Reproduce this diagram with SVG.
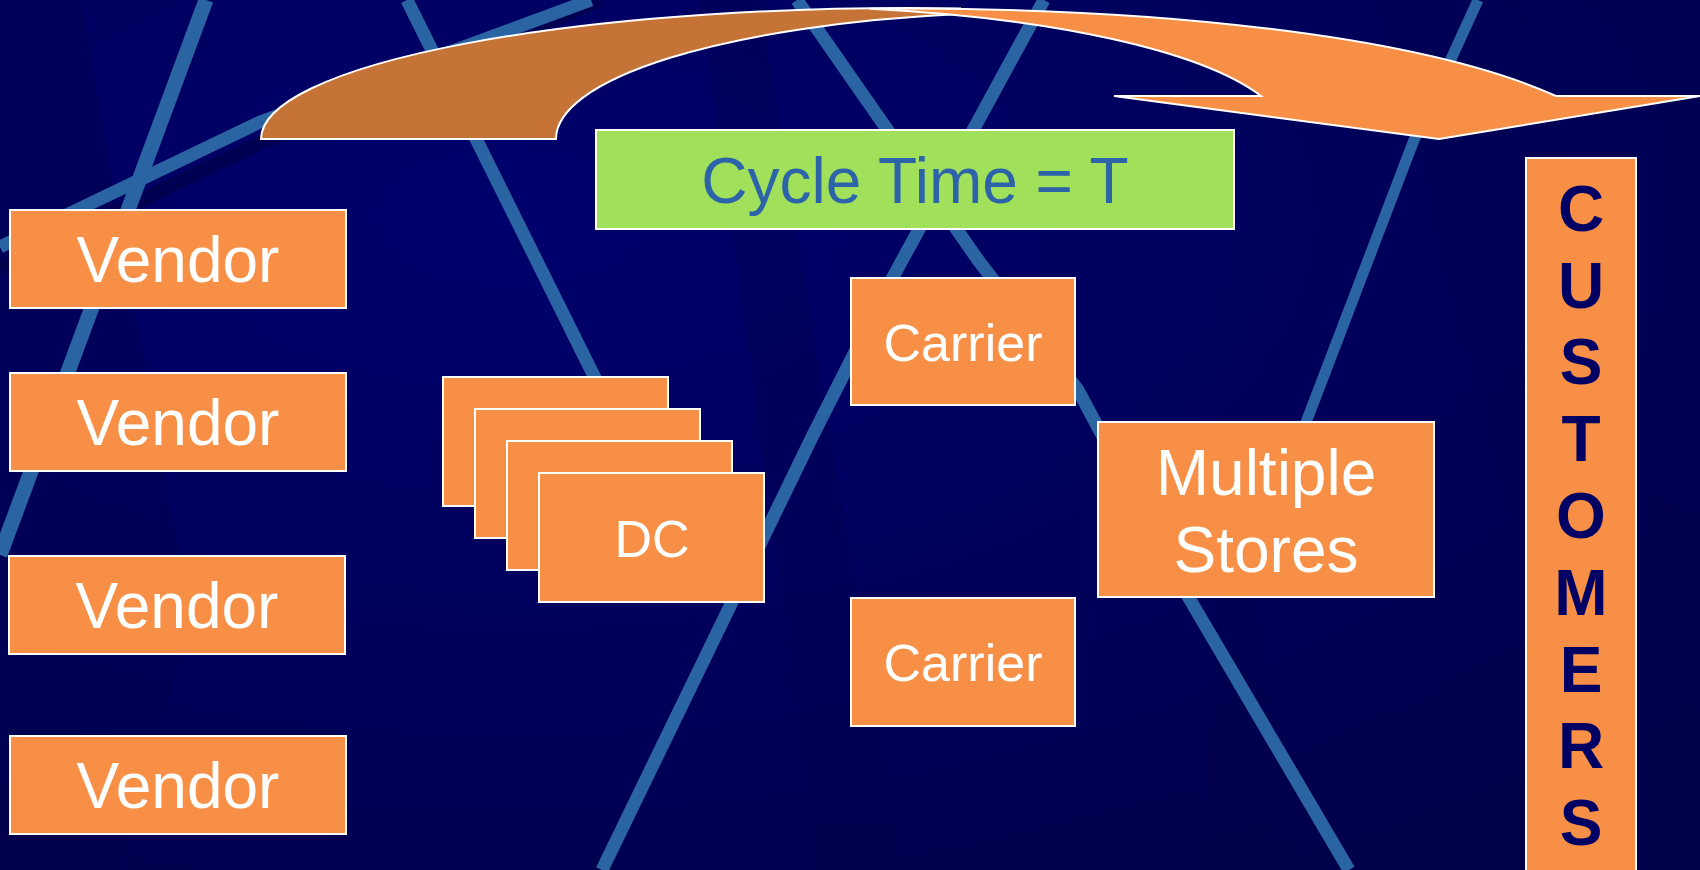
<svg xmlns="http://www.w3.org/2000/svg" width="1700" height="870" viewBox="0 0 1700 870">
  <defs>
    <radialGradient id="bgGlow" cx="0.3" cy="0.25" r="0.9">
      <stop offset="0" stop-color="#00006c"/>
      <stop offset="0.6" stop-color="#00005a"/>
      <stop offset="1" stop-color="#00004a"/>
    </radialGradient>
    <style>
      .stripe { fill: none; stroke: #2a64a2; stroke-linejoin: round; }
      .shade { fill: none; stroke: #00003e; stroke-opacity: 0.5; }
      .box { fill: #f79046; stroke: #ffffff; stroke-width: 2; }
      .lbl { font-family: "Liberation Sans", Arial, sans-serif; fill: #ffffff; text-anchor: middle; }
      .big { font-size: 64px; }
      .mid { font-size: 52px; }
      .cust { font-family: "Liberation Sans", Arial, sans-serif; font-weight: bold; font-size: 64px; fill: #000064; text-anchor: middle; }
      .arrow { stroke: #ffffff; stroke-width: 2; stroke-linejoin: miter; }
    </style>
  </defs>

  <!-- backdrop -->
  <rect x="0" y="0" width="1700" height="870" fill="url(#bgGlow)"/>
  <g id="backdrop-wedges" opacity="0.3">
    <polygon points="0,0 80,0 190,620 120,870 0,870" fill="#00004a"/>
    <polygon points="700,0 760,0 900,870 820,870" fill="#00004c"/>
    <polygon points="1230,470 1300,870 1200,870" fill="#00004a"/>
    <polygon points="1380,0 1520,0 1700,600 1700,870 1600,870" fill="#00004e"/>
  </g>

  <!-- light streaks -->
  <g id="streaks">
    <path class="shade" stroke-width="14" d="M0,268 L260,143 L600,0"/>
    <path class="stripe" stroke-width="13" d="M0,247 L260,122 L591,0"/>
    <path class="stripe" stroke-width="15" d="M206,0 L0,555"/>
    <path class="stripe" stroke-width="13" d="M407,0 L596,380"/>
    <path class="stripe" stroke-width="13" d="M797,0 L978,260 L1078,390 L1189,598 L1349,870"/>
    <path class="stripe" stroke-width="13" d="M1044,0 L893,277 L813,435 L602,870"/>
    <path class="stripe" stroke-width="11" d="M1478,0 L1414,140 L1284,480"/>
  </g>

  <!-- curved flow arrow -->
  <g id="flow-arrow">
    <path class="arrow" fill="#c67337" d="M261,139 A649,131 0 0 1 960,8.4 L960,14.1 A494,127 0 0 0 556,139 Z"/>
    <path class="arrow" fill="#f79046" d="M870,8.8 C1150,6 1420,35 1556,96 L1700,96 L1439,139 L1114,96 L1261,96 C1200,50 1050,18 870,8.8 Z"/>
  </g>

  <g id="cycle-time">
    <rect x="596" y="130" width="638" height="99" fill="#a0e05a" stroke="#ffffff" stroke-width="2"/>
    <text x="915" y="203" class="lbl big" style="fill:#2d63a8">Cycle Time = T</text>
  </g>

  <g id="vendor-1">
    <rect class="box" x="10" y="210" width="336" height="98"/>
    <text class="lbl big" x="178" y="282">Vendor</text>
  </g>
  <g id="vendor-2">
    <rect class="box" x="10" y="373" width="336" height="98"/>
    <text class="lbl big" x="178" y="445">Vendor</text>
  </g>
  <g id="vendor-3">
    <rect class="box" x="9" y="556" width="336" height="98"/>
    <text class="lbl big" x="177" y="628">Vendor</text>
  </g>
  <g id="vendor-4">
    <rect class="box" x="10" y="736" width="336" height="98"/>
    <text class="lbl big" x="178" y="808">Vendor</text>
  </g>

  <g id="dc-stack">
    <rect class="box" x="443" y="377" width="225" height="129"/>
    <rect class="box" x="475" y="409" width="225" height="129"/>
    <rect class="box" x="507" y="441" width="225" height="129"/>
    <rect class="box" x="539" y="473" width="225" height="129"/>
    <text class="lbl mid" x="652" y="557">DC</text>
  </g>

  <g id="carrier-1">
    <rect class="box" x="851" y="278" width="224" height="127"/>
    <text class="lbl mid" x="963" y="361">Carrier</text>
  </g>
  <g id="carrier-2">
    <rect class="box" x="851" y="598" width="224" height="128"/>
    <text class="lbl mid" x="963" y="681">Carrier</text>
  </g>

  <g id="multiple-stores">
    <rect class="box" x="1098" y="422" width="336" height="175"/>
    <text class="lbl big" x="1266" y="495">Multiple</text>
    <text class="lbl big" x="1266" y="572">Stores</text>
  </g>

  <g id="customers">
    <rect class="box" x="1526" y="158" width="110" height="730"/>
    <text class="cust" x="1581" y="231">C</text>
    <text class="cust" x="1581" y="308">U</text>
    <text class="cust" x="1581" y="384">S</text>
    <text class="cust" x="1581" y="461">T</text>
    <text class="cust" x="1581" y="538">O</text>
    <text class="cust" x="1581" y="615">M</text>
    <text class="cust" x="1581" y="692">E</text>
    <text class="cust" x="1581" y="768">R</text>
    <text class="cust" x="1581" y="845">S</text>
  </g>
</svg>
